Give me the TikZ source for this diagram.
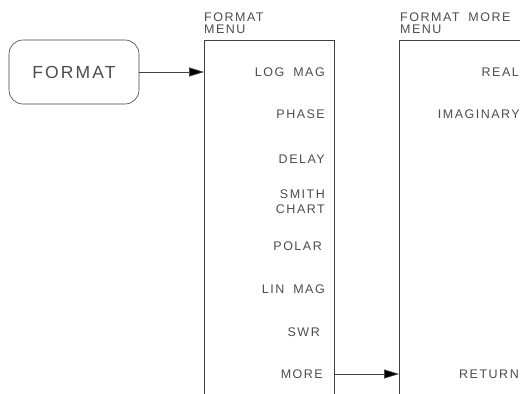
\documentclass[tikz,border=0pt]{standalone}
\usepackage{fontspec}
\setsansfont{Liberation Sans}[LetterSpace=12,WordSpace=1.8]
\usetikzlibrary{positioning,arrows.meta}

\begin{document}
\begin{tikzpicture}[x=1pt,y=-1pt,
        every node/.style={text=black!70},
        font=\sffamily\fontsize{12.5}{11}\selectfont,
        item/.style={anchor=east, inner sep=0pt, align=right},
        title/.style={anchor=west, inner sep=0pt, align=left,
                      font=\sffamily\fontsize{12.5}{12}\selectfont},
        conn/.style={draw=black!75, line width=0.6pt, -{Triangle[length=15pt,width=9pt,fill=black]}}]
    \useasboundingbox (0,0) rectangle (520,394);

    % hardkey
    \node[draw=black!75, line width=0.6pt, rounded corners=14pt,
          minimum width=130pt, minimum height=64pt,
          font=\sffamily\fontsize{17.5}{18}\selectfont] (key) at (74,72) {FORMAT};

    % first menu
    \draw[black!75, line width=0.6pt] (204,394) |- (334,40) -- (334,394);
    \coordinate (m1) at (204,72);
    \coordinate (m1r) at (334,374);
    \node[title] (t1) at (204,23) {FORMAT\\MENU};
    \node[item] (s1) at (325,72) {LOG MAG};
    \node[item] (s2) at (325,114) {PHASE};
    \node[item] (s3) at (325,159) {DELAY};
    \node[item, font=\sffamily\fontsize{12.5}{15}\selectfont] (s4) at (325,201.5) {SMITH\\CHART};
    \node[item] (s5) at (322,246) {POLAR};
    \node[item] (s6) at (325,289) {LIN MAG};
    \node[item] (s7) at (320,332) {SWR};
    \node[item] (s8) at (323,374) {MORE};

    % second menu
    \draw[black!75, line width=0.6pt] (399,394) |- (520,40);
    \coordinate (m2) at (399,374);
    \node[title] (t2) at (400,23) {FORMAT MORE\\MENU};
    \node[item] (r1) at (519,72) {REAL};
    \node[item] (r2) at (520,114) {IMAGINARY};
    \node[item] (r3) at (519,374) {RETURN};

    \draw[conn] (key) -- (m1);
    \draw[conn] (m1r) -- (m2);
\end{tikzpicture}
\end{document}
